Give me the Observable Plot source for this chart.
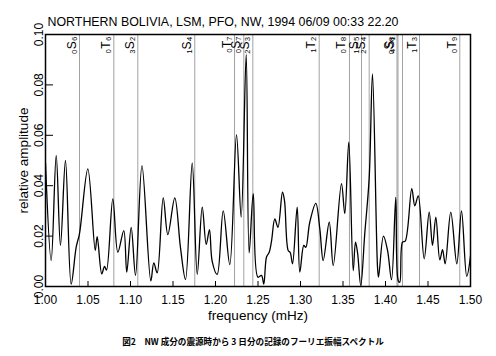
<!DOCTYPE html>
<html><head><meta charset="utf-8">
<script src="https://cdn.jsdelivr.net/npm/d3@7"></script>
<script src="https://cdn.jsdelivr.net/npm/@observablehq/plot@0.6"></script>
<style>
body{margin:0;background:#fff;}
#chart svg{display:block;}
</style></head><body>
<div id="chart"></div>
<script>
const titleText = "NORTHERN BOLIVIA, LSM, PFO, NW, 1994 06/09 00:33 22.20";
const captionText = "図2　NW 成分の震源時から 3 日分の記録のフーリエ振幅スペクトル";
const xLabel = "frequency (mHz)";
const yLabel = "relative amplitude";

const freq = [1.0000,1.0067,1.0126,1.0176,1.0235,1.0302,1.0361,1.0400,1.0498,1.0585,1.0608,1.0662,1.0694,1.0718,1.0792,1.0851,1.0921,1.0956,1.1008,1.1059,1.1135,1.1239,1.1274,1.1314,1.1385,1.1439,1.1521,1.1588,1.1647,1.1726,1.1785,1.1844,1.1891,1.1929,1.1961,1.2020,1.2091,1.2168,1.2247,1.2302,1.2361,1.2396,1.2444,1.2498,1.2541,1.2568,1.2600,1.2632,1.2659,1.2698,1.2735,1.2788,1.2812,1.2855,1.2879,1.2906,1.2961,1.2992,1.3039,1.3062,1.3109,1.3180,1.3227,1.3267,1.3338,1.3385,1.3482,1.3521,1.3568,1.3620,1.3647,1.3671,1.3709,1.3756,1.3808,1.3847,1.3906,1.3918,1.3976,1.4024,1.4071,1.4121,1.4149,1.4168,1.4200,1.4232,1.4309,1.4345,1.4385,1.4455,1.4514,1.4553,1.4592,1.4639,1.4671,1.4702,1.4768,1.4839,1.4894,1.4956,1.5000];
const amp = [0.049,0.0103,0.052,0.0163,0.050,0.001,0.0156,0.021,0.0467,0.0143,0.0198,0.005,0.008,0.0065,0.0348,0.0136,0.0222,0.0057,0.0235,0.0044,0.048,0.0022,0.0094,0.0054,0.0352,0.0206,0.0352,0.0154,0.0028,0.049,0.0048,0.0315,0.0167,0.0226,0.010,0.0048,0.030,0.0087,0.0603,0.0275,0.092,0.0134,0.0368,0.0037,0.0044,0.001,0.0117,0.0136,0.018,0.0268,0.0235,0.0374,0.034,0.0143,0.0135,0.009,0.0315,0.0057,0.0163,0.0155,0.0255,0.033,0.023,0.0103,0.0255,0.0083,0.0408,0.0289,0.0573,0.0063,0.0176,0.0135,0.0004,0.021,0.043,0.0844,0.0077,0.0037,0.020,0.0143,0.0027,0.0354,0.0024,0.0017,0.0176,0.018,0.0388,0.032,0.036,0.011,0.0295,0.0163,0.0275,0.0106,0.0146,0.009,0.0295,0.009,0.030,0.004,0.012];

const modeFreq = [1.0400,1.0804,1.1086,1.1756,1.2224,1.2333,1.2439,1.3220,1.3576,1.3718,1.3808,1.4135,1.4147,1.4200,1.4400,1.4874];
const modeLabel = ["₀S₆","₀T₆","₃S₂","₁S₄","₀T₇","₀S₇","₂S₃","₁T₂","₀T₈","₁S₅","₂S₄","₀S₈","₄S₁","","₁T₃","₀T₉"];

const xTicks = [1.00,1.05,1.10,1.15,1.20,1.25,1.30,1.35,1.40,1.45,1.50];
const yTicks = [0.00,0.02,0.04,0.06,0.08,0.10];

const data = freq.map((f, i) => ({f, a: amp[i]}));
const modes = modeFreq.map((f, i) => ({f, label: modeLabel[i]}));
const fmt = d3.format(".2f");
const NARROW = "'Liberation Sans Narrow','Liberation Sans',Arial,sans-serif";
const REG = "'Liberation Sans',Arial,sans-serif";

const chart = Plot.plot({
  width: 496, height: 356,
  marginLeft: 45, marginRight: 26, marginTop: 34, marginBottom: 70,
  style: {fontFamily: NARROW, background: "white", color: "black"},
  x: {domain: [1.0, 1.5]},
  y: {domain: [0, 0.1]},
  marks: [
    Plot.ruleX(modes, {x: "f", stroke: "#8a8a8a", strokeWidth: 0.8}),
    Plot.line(data, {x: "f", y: "a", curve: "catmull-rom", stroke: "black", strokeWidth: 1.3, clip: true}),
    Plot.text(modes, {x: "f", text: "label", frameAnchor: "top", rotate: -90, textAnchor: "end", lineAnchor: "bottom", dx: -4, dy: 2, fontSize: 12}),
    Plot.axisX({ticks: xTicks, tickSize: -5, tickFormat: () => "", label: null}),
    Plot.axisX({ticks: xTicks, tickSize: 0, tickPadding: 9, tickFormat: fmt, fontSize: 12, label: null}),
    Plot.axisY({ticks: yTicks, tickSize: -8, tickFormat: () => "", label: null}),
    Plot.axisY({ticks: yTicks, tickSize: 0, tickPadding: 3, tickRotate: -90, tickFormat: fmt, fontSize: 12, label: null}),
    Plot.text([xLabel], {frameAnchor: "bottom", lineAnchor: "middle", textAnchor: "middle", dy: 29, fontSize: 13.5, fontFamily: REG}),
    Plot.text([yLabel], {frameAnchor: "left", rotate: -90, textAnchor: "middle", lineAnchor: "middle", dx: -22, fontSize: 13.5, fontFamily: REG}),
    Plot.text([titleText], {frameAnchor: "top-left", textAnchor: "start", lineAnchor: "bottom", dx: 2, dy: -9, fontSize: 12.4}),
    Plot.text([captionText], {frameAnchor: "bottom", lineAnchor: "middle", textAnchor: "middle", dy: 56, dx: -5, fontSize: 8.6, fontWeight: "bold", fontFamily: "'Noto Sans CJK JP'"}),
    Plot.frame({stroke: "black", strokeWidth: 1.5})
  ]
});
document.getElementById("chart").appendChild(chart);
</script>
</body></html>
